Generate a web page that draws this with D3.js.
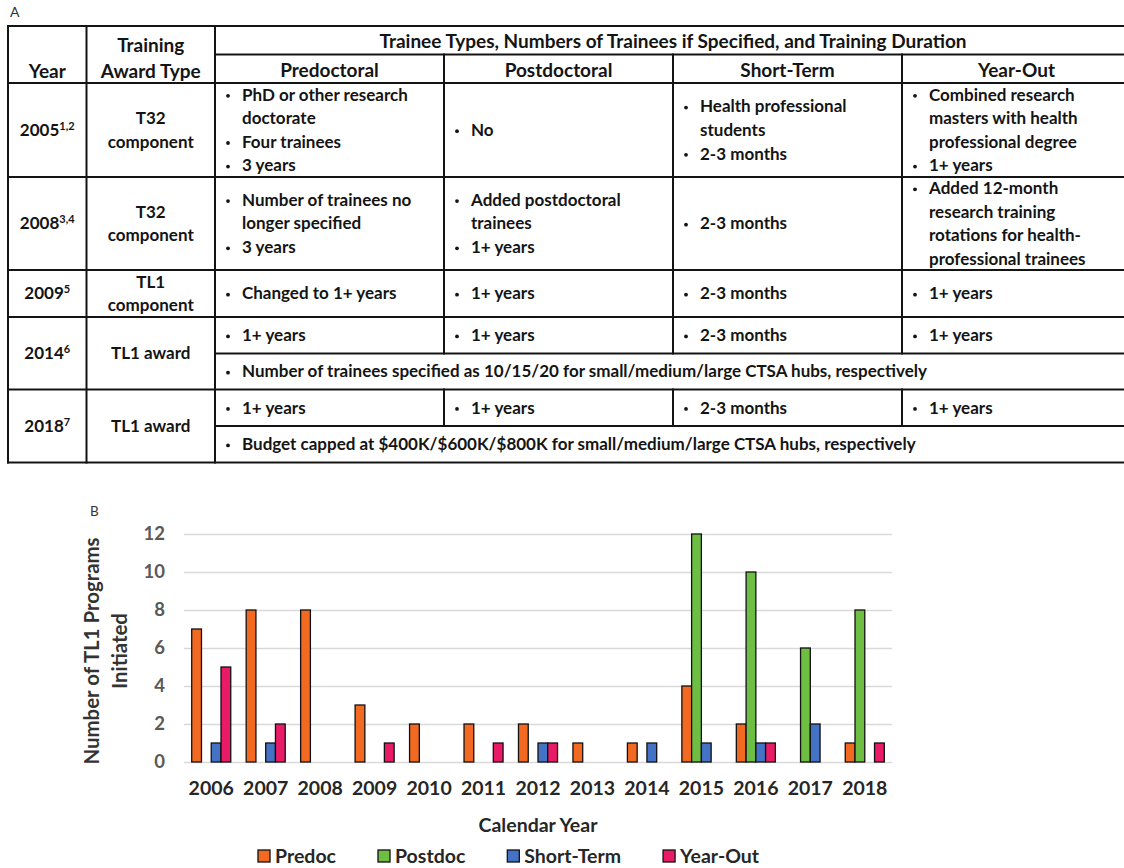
<!DOCTYPE html>
<html>
<head>
<meta charset="utf-8">
<script src="https://cdn.jsdelivr.net/npm/d3@7"></script>
<style>
  html, body { margin: 0; padding: 0; background: #ffffff; }
  svg { display: block; font-family: Lato, "Open Sans", sans-serif; }
</style>
</head>
<body>
<svg id="fig" width="1124" height="868"></svg>
<script>
// ---------- Panel B data: TL1 programs initiated per calendar year ----------
const years = ["2006","2007","2008","2009","2010","2011","2012","2013","2014","2015","2016","2017","2018"];
const seriesNames = ["Predoc","Postdoc","Short-Term","Year-Out"];
const predoc    = [7, 8, 8, 3, 2, 2, 2, 1, 1, 4, 2, 0, 1];
const postdoc   = [0, 0, 0, 0, 0, 0, 0, 0, 0, 12, 10, 6, 8];
const shortTerm = [1, 1, 0, 0, 0, 0, 1, 0, 1, 1, 1, 2, 0];
const yearOut   = [5, 2, 0, 1, 0, 1, 1, 0, 0, 0, 1, 0, 1];
const yTicks = [0, 2, 4, 6, 8, 10, 12];
const seriesColors = ["#f26a21", "#6fbe44", "#4472c4", "#ea1b66"];

// ---------- Panel A data: training award history ----------
const headerTop = "Trainee Types, Numbers of Trainees if Specified, and Training Duration";
const typeHeaders = ["Predoctoral", "Postdoctoral", "Short-Term", "Year-Out"];
const rowYears = ["2005", "2008", "2009", "2014", "2018"];
const rowRefs = ["1,2", "3,4", "5", "6", "7"];
const rowAwards = [["T32", "component"], ["T32", "component"], ["TL1", "component"], ["TL1 award"], ["TL1 award"]];
// each cell: list of bullet items, each item a list of wrapped lines
const rowCells = [
  [
    [["PhD or other research", "doctorate"], ["Four trainees"], ["3 years"]],
    [["No"]],
    [["Health professional", "students"], ["2-3 months"]],
    [["Combined research", "masters with health", "professional degree"], ["1+ years"]]
  ],
  [
    [["Number of trainees no", "longer specified"], ["3 years"]],
    [["Added postdoctoral", "trainees"], ["1+ years"]],
    [["2-3 months"]],
    [["Added 12-month", "research training", "rotations for health-", "professional trainees"]]
  ],
  [
    [["Changed to 1+ years"]], [["1+ years"]], [["2-3 months"]], [["1+ years"]]
  ],
  [
    [["1+ years"]], [["1+ years"]], [["2-3 months"]], [["1+ years"]]
  ],
  [
    [["1+ years"]], [["1+ years"]], [["2-3 months"]], [["1+ years"]]
  ]
];
const spanNotes = [null, null, null,
  "Number of trainees specified as 10/15/20 for small/medium/large CTSA hubs, respectively",
  "Budget capped at $400K/$600K/$800K for small/medium/large CTSA hubs, respectively"];

const svg = d3.select("#fig");

// ================= Panel A: table =================
const colX = [8, 86.5, 215, 444, 673, 902, 1131];
const hTop = 26, hMid = 54.5, hBot = 83;
const rowBounds = [[83, 177], [177, 270], [270, 317], [317, 389.5], [389.5, 462.5]];
const subSplit = [null, null, null, 353.5, 426];
const lineH = 23.6;
const ink = "#141414";

svg.append("text").attr("x", 10).attr("y", 17)
  .attr("font-size", 14).attr("fill", "#333")
  .text("A");

const tbl = svg.append("g").attr("class", "table");
const lineStyle = s => s.attr("stroke", ink).attr("stroke-width", 2).attr("stroke-linecap", "square");

// horizontal rules
const hRules = [
  [colX[0], colX[6], hTop], [colX[2], colX[6], hMid], [colX[0], colX[6], hBot]
];
rowBounds.forEach((b, i) => {
  hRules.push([colX[0], colX[6], b[1]]);
  if (subSplit[i] != null) hRules.push([colX[2], colX[6], subSplit[i]]);
});
tbl.selectAll("line.h").data(hRules).join("line").attr("class", "h")
  .attr("x1", d => d[0]).attr("x2", d => d[1]).attr("y1", d => d[2]).attr("y2", d => d[2])
  .call(lineStyle);

// vertical rules
const vRules = [
  [colX[0], hTop, rowBounds[4][1]], [colX[1], hTop, rowBounds[4][1]], [colX[2], hTop, rowBounds[4][1]]
];
[3, 4, 5].forEach(c => {
  vRules.push([colX[c], hMid, rowBounds[2][1]]);
  vRules.push([colX[c], rowBounds[3][0], subSplit[3]]);
  vRules.push([colX[c], rowBounds[4][0], subSplit[4]]);
});
tbl.selectAll("line.v").data(vRules).join("line").attr("class", "v")
  .attr("x1", d => d[0]).attr("x2", d => d[0]).attr("y1", d => d[1]).attr("y2", d => d[2])
  .call(lineStyle);

const headFont = 19, bodyFont = 17;
function txt(x, y, s, size, anchor) {
  return tbl.append("text").attr("x", x).attr("y", y)
    .attr("font-size", size).attr("font-weight", 700).attr("fill", ink)
    .attr("text-anchor", anchor || "start").attr("dy", "0.35em").text(s);
}

// header cells
txt((colX[0] + colX[1]) / 2, 71, "Year", headFont, "middle");
txt((colX[1] + colX[2]) / 2, 45, "Training", headFont, "middle");
txt((colX[1] + colX[2]) / 2, 71, "Award Type", headFont, "middle");
txt((colX[2] + colX[6]) / 2, 41, headerTop, headFont, "middle");
typeHeaders.forEach((h, i) => txt((colX[i + 2] + colX[i + 3]) / 2, 70, h, headFont, "middle"));

// a bulleted cell, vertically centred between y0 and y1
function bulletCell(x, y0, y1, items) {
  const lines = [];
  items.forEach(item => item.forEach((ln, j) => lines.push({ text: ln, first: j === 0 })));
  const cy = (y0 + y1) / 2;
  lines.forEach((ln, k) => {
    const y = cy + (k - (lines.length - 1) / 2) * lineH;
    if (ln.first) tbl.append("circle").attr("cx", x + 13).attr("cy", y + 1.2).attr("r", 1.9).attr("fill", ink);
    txt(x + 27, y, ln.text, bodyFont, "start");
  });
}

rowYears.forEach((yr, i) => {
  const [y0, y1] = rowBounds[i];
  const cy = (y0 + y1) / 2;
  // year with superscript reference
  const t = txt((colX[0] + colX[1]) / 2, cy, "", bodyFont, "middle");
  t.append("tspan").text(yr);
  t.append("tspan").attr("font-size", 11).attr("dy", "-0.55em").text(rowRefs[i]);
  // award type
  const aw = rowAwards[i];
  aw.forEach((a, k) => txt((colX[1] + colX[2]) / 2, cy + (k - (aw.length - 1) / 2) * lineH, a, bodyFont, "middle"));
  // trainee type cells
  const cellBottom = subSplit[i] != null ? subSplit[i] : y1;
  rowCells[i].forEach((items, c) => bulletCell(colX[c + 2], y0, cellBottom, items));
  if (spanNotes[i]) bulletCell(colX[2], subSplit[i], y1, [[spanNotes[i]]]);
});

// ================= Panel B: grouped bar chart =================
const plot = { left: 184, right: 892, top: 534, bottom: 762 };
const values = [predoc, postdoc, shortTerm, yearOut];

svg.append("text").attr("x", 90).attr("y", 516)
  .attr("font-size", 13.5).attr("fill", "#333").text("B");

const x0 = d3.scaleBand().domain(years).range([plot.left, plot.right]).padding(0);
const x1 = d3.scaleBand().domain(seriesNames).range([0, x0.bandwidth()])
  .paddingInner(0).paddingOuter(0.79);
const y = d3.scaleLinear().domain([0, 12]).range([plot.bottom, plot.top]);

const chart = svg.append("g").attr("class", "chart");

// gridlines
chart.append("g")
  .attr("transform", `translate(${plot.left},0)`)
  .call(d3.axisLeft(y).tickValues(yTicks).tickSize(-(plot.right - plot.left)).tickFormat(""))
  .call(g => g.select(".domain").remove())
  .call(g => g.selectAll(".tick line").attr("stroke", "#d9d9d9").attr("stroke-width", 1.6));

// y tick labels
chart.append("g")
  .attr("transform", `translate(${plot.left - 19},0)`)
  .call(d3.axisLeft(y).tickValues(yTicks).tickSize(0).tickPadding(0).tickFormat(d3.format("d")))
  .call(g => g.select(".domain").remove())
  .call(g => g.selectAll("text").attr("font-size", 18.5).attr("font-weight", 700)
    .attr("fill", "#595959").attr("font-family", "Lato, sans-serif"));

// bars
const groups = chart.selectAll("g.year").data(years).join("g").attr("class", "year")
  .attr("transform", d => `translate(${x0(d)},0)`);
groups.selectAll("rect")
  .data((d, i) => seriesNames.map((s, k) => ({ s, k, v: values[k][i] })).filter(e => e.v > 0))
  .join("rect")
  .attr("x", d => x1(d.s))
  .attr("width", x1.bandwidth())
  .attr("y", d => y(d.v))
  .attr("height", d => y(0) - y(d.v))
  .attr("fill", d => seriesColors[d.k])
  .attr("stroke", "#111").attr("stroke-width", 1.3);

// x tick labels
chart.append("g")
  .attr("transform", `translate(0,${plot.bottom})`)
  .call(d3.axisBottom(x0).tickSize(0).tickPadding(19))
  .call(g => g.select(".domain").remove())
  .call(g => g.selectAll("text").attr("font-size", 19.5).attr("font-weight", 700)
    .attr("fill", "#262626").attr("font-family", "Lato, sans-serif"));

// axis titles
const yTitle = chart.append("text").attr("transform", "translate(92,651) rotate(-90)")
  .attr("text-anchor", "middle").attr("font-size", 20.4).attr("font-weight", 700).attr("fill", "#333");
yTitle.append("tspan").attr("x", 0).attr("dy", "0.35em").text("Number of TL1 Programs");
yTitle.append("tspan").attr("x", 0).attr("dy", "1.38em").text("Initiated");

chart.append("text").attr("x", (plot.left + plot.right) / 2).attr("y", 825).attr("dy", "0.35em")
  .attr("text-anchor", "middle").attr("font-size", 19.5).attr("font-weight", 700).attr("fill", "#262626")
  .text("Calendar Year");

// legend
const legend = chart.append("g").attr("class", "legend");
let lx = 258;
seriesNames.forEach((s, k) => {
  const g = legend.append("g").attr("transform", `translate(${lx},856)`);
  g.append("rect").attr("x", 0).attr("y", -6).attr("width", 12).attr("height", 12)
    .attr("fill", seriesColors[k]).attr("stroke", "#111").attr("stroke-width", 1.3);
  const t = g.append("text").attr("x", 17).attr("dy", "0.35em").attr("font-size", 19.5)
    .attr("font-weight", 700).attr("fill", "#262626").text(s);
  lx += 17 + t.node().getComputedTextLength() + 42;
});
</script>
</body>
</html>
